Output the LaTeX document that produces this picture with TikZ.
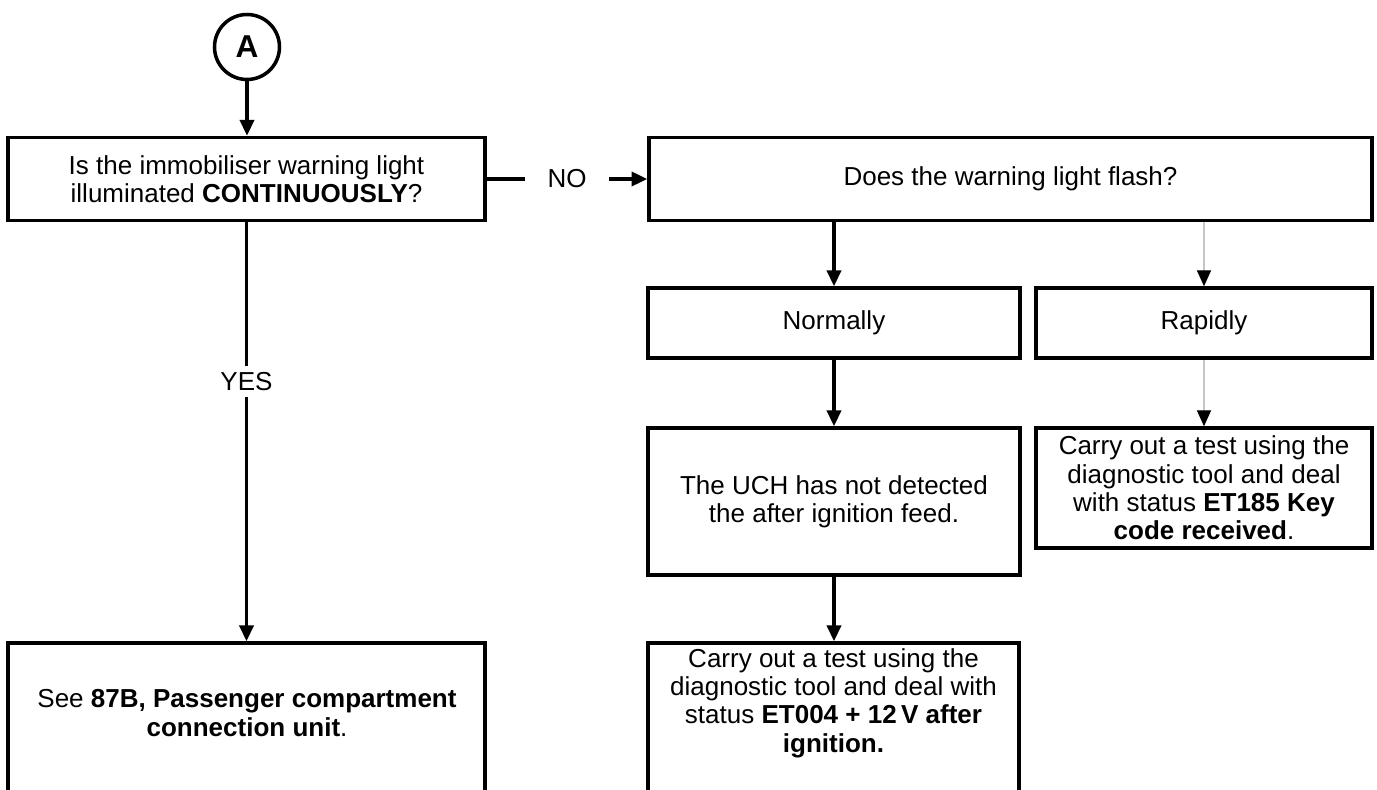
\documentclass[tikz,border=0pt]{standalone}
\usepackage{fontspec}
\setmainfont{Liberation Sans}
\usetikzlibrary{arrows.meta}
\usetikzlibrary{fit}

\tikzset{
    txt/.style={align=center, font=\fontsize{14.8}{16.1}\selectfont},
    box/.style={txt, draw, line width=2pt},
    arr/.style={line width=2pt, -{Triangle[width=8pt,length=9pt]}},
    faint/.style={draw=gray!45, line width=0.6pt, -{Triangle[width=8pt,length=9pt,color=black]}},
}

\begin{document}
\begin{tikzpicture}[x=0.02cm, y=-0.02cm]
    \clip (0,0) rectangle (1377,790);
    \node[circle, draw, line width=2pt, minimum size=1.3cm, inner sep=0pt,
        font=\bfseries\fontsize{18}{18}\selectfont] (a) at (247,47) {A};
    \node[box, minimum width=9.54cm, minimum height=1.66cm] (q1) at (246.5,179)
        {Is the immobiliser warning light\\illuminated \textbf{CONTINUOUSLY}?};
    \node[box, minimum width=14.46cm, minimum height=1.66cm] (q2) at (1010.5,179)
        {Does the warning light flash?};
    \node[box, minimum width=7.44cm, minimum height=1.4cm] (norm) at (834,323) {Normally};
    \node[box, minimum width=6.72cm, minimum height=1.4cm] (rap) at (1204,323) {Rapidly};
    \node[box, minimum width=7.44cm, minimum height=2.94cm] (uch) at (834,501.5)
        {The UCH has not detected\\the after ignition feed.};
    \node[box, minimum width=6.72cm, minimum height=2.4cm] (et185) at (1204,488)
        {Carry out a test using the\\diagnostic tool and deal\\with status \textbf{ET185 Key}\\\textbf{code received}.};
    % bottom boxes run off the page
    \node[box, fit={(8,643) (485,800)}, inner sep=0pt] (see) {};
    \node[txt] (see-t) at (247,713)
        {See \textbf{87B, Passenger compartment}\\\textbf{connection unit}.};
    \node[box, fit={(648,643) (1019,800)}, inner sep=0pt] (et004) {};
    \node[txt] (et004-t) at (833.5,703)
        {Carry out a test using the\\diagnostic tool and deal with\\status \textbf{ET004 + 12\,V after}\\\textbf{ignition.}};

    \draw[arr] (a.south) -- (a.south |- q1.north);
    \draw[arr] (q1.east) -- node[txt, fill=white, inner xsep=0.45cm] (no) {NO} (q2.west);
    \draw[arr] (q1.south) -- node[txt, pos=0.38, fill=white, inner xsep=0pt] (yes) {YES} (see.north);
    \draw[arr] (q2.south -| norm.north) -- (norm.north);
    \draw[faint] (q2.south -| rap.north) -- (rap.north);
    \draw[arr] (norm.south) -- (uch.north);
    \draw[faint] (rap.south) -- (et185.north);
    \draw[arr] (uch.south) -- (uch.south |- et004.north);
\end{tikzpicture}
\end{document}
